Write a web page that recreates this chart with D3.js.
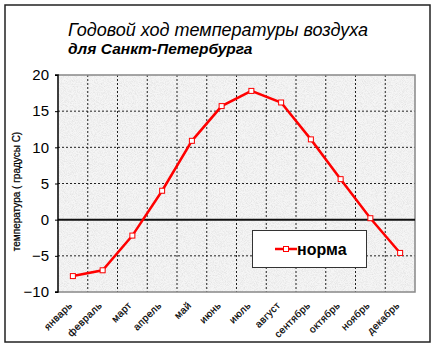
<!DOCTYPE html>
<html>
<head>
<meta charset="utf-8">
<script src="https://cdn.jsdelivr.net/npm/d3@7"></script>
<style>
  html, body { margin: 0; padding: 0; background: #fff; }
  svg { display: block; }
</style>
</head>
<body>
<script>
// Monthly mean air temperature, Saint Petersburg
const months = ["январь","февраль","март","апрель","май","июнь","июль","август","сентябрь","октябрь","ноябрь","декабрь"];
const norma = [-7.8, -7.0, -2.2, 4.0, 10.9, 15.7, 17.8, 16.2, 11.1, 5.6, 0.2, -4.6];
const yTicks = [-10, -5, 0, 5, 10, 15, 20];
const titleLines = ["Годовой ход температуры воздуха", "для Санкт-Петербурга"];
const yTitle = "температура ( градусы С)";
const seriesName = "норма";

const W = 437, H = 348;
const plot = { left: 58, right: 415, top: 75, bottom: 292 };
const FONT = "Liberation Sans, Arial, sans-serif";

const svg = d3.select("body").append("svg").attr("width", W).attr("height", H);

// speckled texture for the plot background
const defs = svg.append("defs");
const f = defs.append("filter").attr("id", "grain")
  .attr("x", 0).attr("y", 0).attr("width", "100%").attr("height", "100%");
f.append("feTurbulence").attr("type", "fractalNoise").attr("baseFrequency", 1.1)
  .attr("numOctaves", 2).attr("seed", 7).attr("result", "noise");
f.append("feColorMatrix").attr("in", "noise").attr("type", "matrix")
  .attr("values", "0 0 0 0 0.72  0 0 0 0 0.72  0 0 0 0 0.72  1.8 0 0 0 -0.72")
  .attr("result", "specks");
f.append("feComposite").attr("in", "specks").attr("in2", "SourceGraphic").attr("operator", "over");

// outer frame
svg.append("rect").attr("x", 5).attr("y", 5).attr("width", 425).attr("height", 337)
  .attr("fill", "#fff").attr("stroke", "#222").attr("stroke-width", 1.5);

// title
svg.append("text").attr("x", 68).attr("y", 36)
  .attr("font-family", FONT).attr("font-style", "italic")
  .attr("font-size", 18).attr("fill", "#000").text(titleLines[0]);
svg.append("text").attr("x", 68).attr("y", 54)
  .attr("font-family", FONT).attr("font-style", "italic")
  .attr("font-weight", "bold").attr("font-size", 15.5).attr("fill", "#000").text(titleLines[1]);

const x = d3.scaleBand().domain(months).range([plot.left, plot.right]).padding(0);
const y = d3.scaleLinear().domain([-10, 20]).range([plot.bottom, plot.top]);

// plot background
svg.append("rect").attr("x", plot.left).attr("y", plot.top)
  .attr("width", plot.right - plot.left).attr("height", plot.bottom - plot.top)
  .attr("fill", "#f5f5f5").attr("filter", "url(#grain)");

// dotted grid
const grid = svg.append("g").attr("stroke", "#222").attr("stroke-width", 1)
  .attr("stroke-dasharray", "2,2");
months.slice(1).forEach(m => {
  grid.append("line").attr("x1", x(m)).attr("x2", x(m))
    .attr("y1", plot.top).attr("y2", plot.bottom);
});
yTicks.filter(v => v !== 0 && v !== 20 && v !== -10).forEach(v => {
  grid.append("line").attr("x1", plot.left).attr("x2", plot.right)
    .attr("y1", y(v)).attr("y2", y(v));
});

// plot border
svg.append("path")
  .attr("d", `M${plot.left},${plot.top}H${plot.right}V${plot.bottom}H${plot.left}`)
  .attr("fill", "none").attr("stroke", "#888").attr("stroke-width", 1.5);

// zero line
svg.append("line").attr("x1", plot.left).attr("x2", plot.right)
  .attr("y1", y(0)).attr("y2", y(0)).attr("stroke", "#111").attr("stroke-width", 2);

// y axis
const yAxis = svg.append("g").attr("transform", `translate(${plot.left},0)`)
  .call(d3.axisLeft(y).tickValues(yTicks).tickSize(3).tickPadding(6).tickFormat(d3.format("d")));
yAxis.select(".domain").attr("stroke", "#000").attr("stroke-width", 1.5)
  .attr("d", `M-3,${plot.top}H0V${plot.bottom}H-3`);
yAxis.selectAll(".tick line").attr("stroke", "#000");
yAxis.selectAll(".tick text").attr("font-family", FONT)
  .attr("font-size", 15).attr("fill", "#000");

// y axis title
svg.append("text").attr("transform", `translate(20,${(plot.top + plot.bottom) / 2 + 8}) rotate(-90)`)
  .attr("text-anchor", "middle").attr("font-family", FONT)
  .attr("font-size", 10).attr("fill", "#000").attr("stroke", "#000").attr("stroke-width", 0.25)
  .text(yTitle);

// month labels
svg.append("g").selectAll("text").data(months).join("text")
  .attr("transform", m => `translate(${x(m) + x.bandwidth() / 2},${plot.bottom + 14}) rotate(-45)`)
  .attr("text-anchor", "end").attr("font-family", FONT)
  .attr("font-size", 10).attr("letter-spacing", 0.4).attr("fill", "#000")
  .attr("stroke", "#000").attr("stroke-width", 0.2).text(m => m);

// series line
const cx = (d, i) => x(months[i]) + x.bandwidth() / 2;
const line = d3.line().x(cx).y(d => y(d));
svg.append("path").datum(norma).attr("d", line)
  .attr("fill", "none").attr("stroke", "#ff0000").attr("stroke-width", 2.5);

// markers
const mk = svg.append("g");
mk.selectAll("rect.sh").data(norma).join("rect").attr("class", "sh")
  .attr("x", (d, i) => cx(d, i) - 1.5).attr("y", d => y(d) - 1.5)
  .attr("width", 4).attr("height", 4).attr("fill", "#111");
mk.selectAll("rect.pt").data(norma).join("rect").attr("class", "pt")
  .attr("x", (d, i) => cx(d, i) - 2.5).attr("y", d => y(d) - 2.5)
  .attr("width", 5).attr("height", 5).attr("fill", "#fff")
  .attr("stroke", "#ff0000").attr("stroke-width", 1);

// legend
const lg = svg.append("g");
lg.append("rect").attr("x", 252.5).attr("y", 230.5).attr("width", 114).attr("height", 37)
  .attr("fill", "#fff").attr("stroke", "#333").attr("stroke-width", 1);
lg.append("line").attr("x1", 275).attr("x2", 297).attr("y1", 249).attr("y2", 249)
  .attr("stroke", "#ff0000").attr("stroke-width", 2.5);
lg.append("rect").attr("x", 283.5).attr("y", 246.5).attr("width", 5).attr("height", 5)
  .attr("fill", "#fff").attr("stroke", "#ff0000").attr("stroke-width", 1);
lg.append("text").attr("x", 297).attr("y", 255).attr("font-family", FONT)
  .attr("font-weight", "bold").attr("font-size", 16).attr("fill", "#000").text(seriesName);
</script>
</body>
</html>
